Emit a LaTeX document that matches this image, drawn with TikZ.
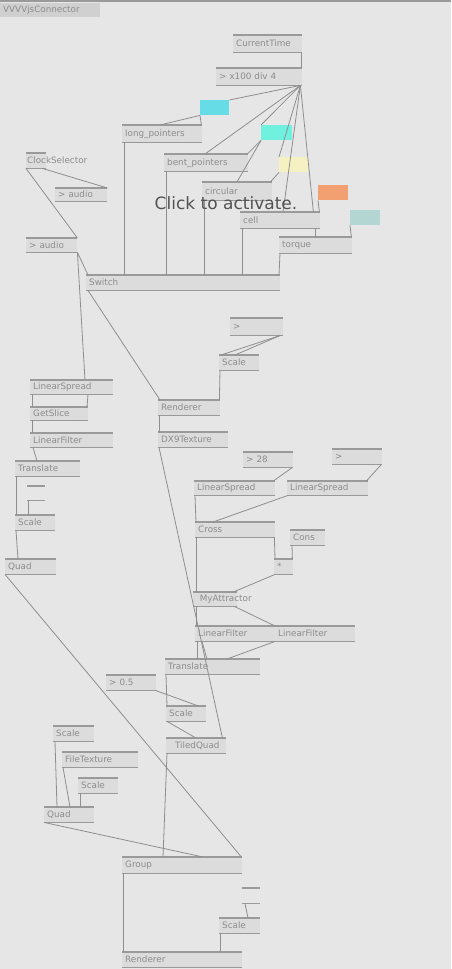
\documentclass[tikz,border=0pt]{standalone}
\usepackage{fontspec}
\setmainfont{DejaVu Sans}
\newfontfamily\clickfont{DejaVu Sans}
\usetikzlibrary{calc}
\definecolor{bg}{HTML}{E6E6E6}
\definecolor{boxfill}{HTML}{DCDCDC}
\definecolor{pinc}{HTML}{9A9A9A}
\definecolor{linkc}{HTML}{8E8E8E}
\definecolor{txtc}{HTML}{8C8C8C}
\definecolor{cyanA}{HTML}{66DCE6}
\definecolor{cyanB}{HTML}{70F0DE}
\definecolor{yelA}{HTML}{F6F1C2}
\definecolor{oraA}{HTML}{F2A072}
\definecolor{tealA}{HTML}{B4D6D2}
\definecolor{titlefill}{HTML}{D0D0D0}
\begin{document}
\begin{tikzpicture}[x=1pt,y=-1pt,
  pinline/.style={draw=pinc,line width=1.1pt},
  vbox/.style={fill=boxfill,inner xsep=3pt,inner ysep=0pt,align=left,
    font=\fontsize{8.8}{9}\selectfont,text=txtc,
    append after command={(\tikzlastnode.north west) edge[pinline] (\tikzlastnode.north east)
      (\tikzlastnode.south west) edge[pinline] (\tikzlastnode.south east)}},
  vsmall/.style={fill=none,inner sep=0pt,
    append after command={(\tikzlastnode.north west) edge[pinline] (\tikzlastnode.north east)
      (\tikzlastnode.south west) edge[pinline] (\tikzlastnode.south east)}},
  colbox/.style={inner sep=0pt,draw=none},
  titlebox/.style={fill=titlefill,inner xsep=3pt,inner ysep=0pt,align=left,
    font=\fontsize{8.8}{9}\selectfont,text=txtc},
  link/.style={draw=linkc,line width=0.8pt},
  lbl/.style={font=\fontsize{8.8}{9}\selectfont,text=txtc,inner sep=1pt}
]
\newcommand{\vv}[7]{\pgfmathsetmacro\vvw{#5-#3}\pgfmathsetmacro\vvh{#6-#4}\pgfmathsetmacro\vvt{max(#5-#3-6,1)}%
  \node[#1,minimum width=\vvw pt,minimum height=\vvh pt,text width=\vvt pt,anchor=north west] (#2) at (#3,#4) {#7};}
\newcommand{\cb}[6]{\pgfmathsetmacro\vvw{#5-#3}\pgfmathsetmacro\vvh{#6-#4}%
  \node[colbox,fill=#1,minimum width=\vvw pt,minimum height=\vvh pt,anchor=north west] (#2) at (#3,#4) {};}
\newcommand{\vlink}[4]{\draw[link] ($(#1.south west)+(#2,0)$) -- ($(#3.north west)+(#4,0)$);}

\useasboundingbox (0,0) rectangle (451,969);
\fill[bg] (0,0) rectangle (451,969);
\fill[pinc] (0,0) rectangle (451,2);

% ---- nodes ----
\vv{titlebox}{title}{0}{3}{100}{17}{VVVVjsConnector}
\vv{vbox}{ctime}{233}{35}{302}{52}{CurrentTime}
\vv{vbox}{expr}{216}{68}{302}{85}{> x100 div 4}
\cb{cyanA}{c1}{200}{100}{229}{115}
\vv{vbox}{longp}{122}{125}{202}{142}{long\_pointers}
\cb{cyanB}{c2}{261}{125}{292}{140}
\vv{vbox}{bentp}{164}{154}{248}{171}{bent\_pointers}
\cb{yelA}{yel}{279}{157}{308}{172}
\vv{vbox}{circ}{202}{182}{272}{200}{circular}
\cb{oraA}{ora}{318}{185}{348}{200}
\vv{vbox}{cell}{240}{212}{320}{228}{cell}
\cb{tealA}{teal}{350}{210}{380}{225}
\vv{vbox}{torque}{279}{237}{352}{253}{torque}
\vv{vbox}{switch}{86}{275}{280}{290}{Switch}
\vv{vbox}{clock}{26}{153}{46}{168}{}
\node[lbl,anchor=west] (clocklbl) at (clock.west) {ClockSelector};
\vv{vbox}{audio1}{55}{188}{107}{201}{> audio}
\vv{vbox}{audio2}{26}{238}{77}{252}{> audio}

\vv{vbox}{ls1}{30}{380}{113}{394}{LinearSpread}
\vv{vbox}{gets}{30}{407}{88}{420}{GetSlice}
\vv{vbox}{lf1}{30}{433}{113}{447}{LinearFilter}
\vv{vbox}{tr1}{15}{461}{80}{476}{Translate}
\vv{vsmall}{iv1}{27}{486}{45}{500}{}
\vv{vbox}{sc1}{15}{515}{55}{530}{Scale}
\vv{vbox}{quad1}{5}{559}{56}{574}{Quad}

\vv{vbox}{ivtop}{230}{318}{283}{335}{>}
\vv{vbox}{sc2}{219}{355}{259}{370}{Scale}
\vv{vbox}{rend1}{158}{400}{220}{415}{Renderer}
\vv{vbox}{dx9}{158}{432}{228}{447}{DX9Texture}

\vv{vbox}{iv28}{243}{452}{293}{467}{> 28}
\vv{vbox}{iv2}{332}{449}{382}{464}{>}
\vv{vbox}{ls2}{194}{481}{275}{495}{LinearSpread}
\vv{vbox}{ls3}{287}{481}{368}{495}{LinearSpread}
\vv{vbox}{cross}{195}{522}{275}{537}{Cross}
\vv{vbox}{cons}{290}{530}{325}{545}{Cons}
\vv{vbox}{mul}{274}{559}{293}{574}{*}
\vv{vbox}{attr}{193}{592}{237}{606}{}
\node[lbl,anchor=west] (attrlbl) at (attr.west) {\ \ MyAttractor};
\vv{vbox}{lf2}{195}{626}{275}{641}{LinearFilter}
\vv{vbox}{lf3}{275}{626}{355}{641}{LinearFilter}
\vv{vbox}{tr2}{165}{659}{260}{674}{Translate}
\vv{vbox}{iv05}{106}{675}{156}{690}{> 0.5}
\vv{vbox}{sc3}{166}{706}{206}{721}{Scale}
\vv{vbox}{tq}{166}{738}{226}{753}{\ \ TiledQuad}

\vv{vbox}{sc4}{53}{726}{94}{741}{Scale}
\vv{vbox}{ft}{62}{752}{138}{767}{FileTexture}
\vv{vbox}{sc5}{78}{778}{118}{793}{Scale}
\vv{vbox}{quad2}{44}{807}{94}{822}{Quad}
\vv{vbox}{group}{122}{857}{242}{873}{Group}
\vv{vsmall}{iv3}{242}{888}{260}{903}{}
\vv{vbox}{sc6}{219}{918}{260}{933}{Scale}
\vv{vbox}{rend2}{122}{952}{242}{967}{Renderer}

% ---- links ----
\vlink{ctime}{68}{expr}{85}
\coordinate (eo) at ($(expr.south east)+(-2,0)$);
\draw[link] (eo) -- (c1.north east);
\draw[link] (eo) -- ($(bentp.north west)+(41,0)$);
\draw[link] (eo) -- (c2.north west);
\draw[link] (eo) -- (yel.north west);
\draw[link] (eo) -- ($(cell.north west)+(43,0)$);
\draw[link] (eo) -- ($(cell.north east)+(-7,0)$);
\draw[link] (c1.south west) -- ($(longp.north west)+(38,0)$);
\draw[link] (c1.south west) -- ($(longp.north east)+(-1,0)$);
\draw[link] (c2.south west) -- ($(bentp.north east)+(-1,0)$);
\draw[link] (c2.south west) -- ($(circ.north west)+(35,0)$);
\draw[link] (yel.south west) -- ($(circ.north east)+(-2,0)$);
\draw[link] (ora.south west) -- ($(cell.north east)+(-1,0)$);
\draw[link] (teal.south west) -- ($(torque.north east)+(-1,0)$);
\vlink{cell}{75}{torque}{36}
\vlink{longp}{2}{switch}{38}
\vlink{bentp}{2}{switch}{80}
\vlink{circ}{2}{switch}{118}
\vlink{cell}{2}{switch}{156}
\vlink{torque}{1}{switch}{193}
\draw[link] (clock.south west) -- (audio2.north east);
\draw[link] ($(clock.south east)+(-4,0)$) -- (audio1.north east);
\draw[link] (audio2.south east) -- ($(switch.north west)+(2,0)$);
\draw[link] (audio2.south east) -- ($(ls1.north west)+(55,0)$);
\vlink{switch}{2}{rend1}{2}

\vlink{ls1}{2}{gets}{2}
\vlink{ls1}{58}{gets}{57}
\vlink{gets}{2}{lf1}{2}
\vlink{lf1}{3}{tr1}{22}
\vlink{tr1}{1}{sc1}{1}
\vlink{iv1}{1}{sc1}{13}
\vlink{sc1}{1}{quad1}{13}
\draw[link] (quad1.south west) -- ($(group.north east)+(-1,0)$);

\draw[link] ($(ivtop.south east)+(-3,0)$) -- ($(sc2.north west)+(2,0)$);
\draw[link] ($(ivtop.south east)+(-3,0)$) -- ($(sc2.north west)+(16,0)$);
\draw[link] ($(sc2.south west)+(1,0)$) -- ($(rend1.north east)+(-1,0)$);
\vlink{rend1}{1}{dx9}{1}
\draw[link] ($(dx9.south west)+(1,0)$) -- ($(tq.north east)+(-4,0)$);

\draw[link] ($(iv28.south east)+(-1,0)$) -- ($(ls2.north east)+(-2,0)$);
\draw[link] ($(iv2.south east)+(-1,0)$) -- ($(ls3.north east)+(-2,0)$);
\vlink{ls2}{1}{cross}{1}
\vlink{ls3}{1}{cross}{18}
\draw[link] ($(cross.south east)+(-1,0)$) -- ($(mul.north west)+(1,0)$);
\draw[link] ($(cons.south west)+(2,0)$) -- ($(mul.north east)+(-1,0)$);
\vlink{cross}{1}{attr}{3}
\draw[link] ($(mul.south west)+(1,0)$) -- ($(attr.north east)+(-4,0)$);
\vlink{attr}{3}{lf2}{1}
\draw[link] ($(attr.south east)+(-3,0)$) -- (lf3.north west);
\vlink{lf2}{2}{tr2}{32}
\vlink{lf2}{7}{tr2}{42}
\draw[link] (lf3.south west) -- ($(tr2.north west)+(62,0)$);
\vlink{tr2}{1}{sc3}{1}
\draw[link] ($(iv05.south east)+(-1,0)$) -- ($(sc3.north east)+(-8,0)$);
\vlink{sc3}{1}{tq}{30}
\vlink{tq}{1}{group}{41}
\vlink{sc4}{2}{quad2}{13}
\vlink{ft}{1}{quad2}{26}
\vlink{sc5}{2}{quad2}{36}
\draw[link] (quad2.south west) -- ($(group.north west)+(81,0)$);
\vlink{group}{1}{rend2}{1}
\vlink{iv3}{3}{sc6}{29}
\vlink{sc6}{1}{rend2}{98}

% ---- overlay text ----
\node[font=\clickfont\fontsize{17}{20}\selectfont,text=black!68,inner sep=0pt] (click) at (226,203) {Click to activate.};
\end{tikzpicture}
\end{document}
